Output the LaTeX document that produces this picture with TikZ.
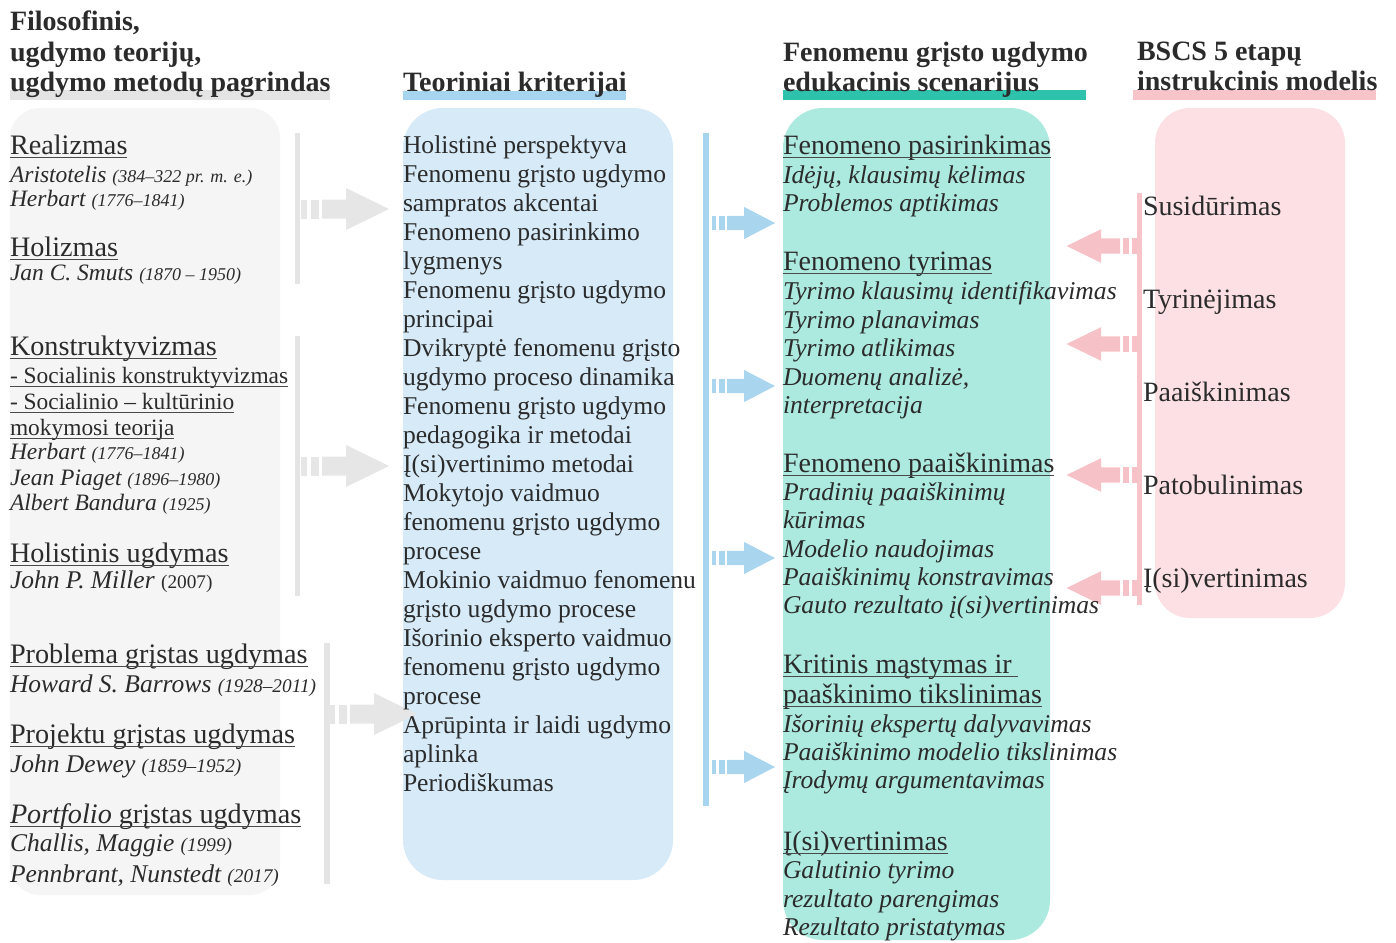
\documentclass[tikz,border=0pt]{standalone}
\usepackage{fontspec}
\setmainfont{Liberation Serif}
\definecolor{panelgray}{HTML}{F5F5F5}
\definecolor{panelblue}{HTML}{D6EAF8}
\definecolor{panelteal}{HTML}{ACE9DF}
\definecolor{panelpink}{HTML}{FDE0E3}
\definecolor{bargray}{HTML}{E4E4E4}
\definecolor{barblue}{HTML}{A7D4EE}
\definecolor{barteal}{HTML}{2EC2AD}
\definecolor{barpink}{HTML}{F7C4CA}
\definecolor{arrowgray}{HTML}{E6E6E6}
\definecolor{arrowblue}{HTML}{A9D5EF}
\definecolor{arrowpink}{HTML}{F6C2C8}
\definecolor{textc}{HTML}{2B2B2B}
\definecolor{ulc}{HTML}{4A4A4A}
\newcommand\myul[1]{\draw[ulline] ([yshift=-3.5pt]#1.base west) -- ([yshift=-3.5pt]#1.base east);}
\newcommand\blockarrow[5]{%
  \begin{scope}[shift={(#1,#2)}, xscale=#3, yscale=#4]
    \fill[#5] (0,-9.5) rectangle (6,9.5);
    \fill[#5] (10,-9.5) rectangle (18,9.5);
    \fill[#5] (21,-9.5) -- (45,-9.5) -- (45,-21) -- (88,0) -- (45,21) -- (45,9.5) -- (21,9.5) -- cycle;
  \end{scope}}
\tikzset{
  txt/.style={anchor=base west, inner sep=0pt, outer sep=0pt, text=textc},
  headtxt/.style={txt, font=\fontsize{28}{30}\selectfont\bfseries},
  ltitle/.style={txt, font=\fontsize{28.2}{30}\selectfont},
  lsub/.style={txt, font=\fontsize{23.4}{26}\selectfont},
  lname/.style={txt, font=\fontsize{23.5}{26}\selectfont\itshape},
  lnameb/.style={txt, font=\fontsize{25.5}{28}\selectfont\itshape},
  btext/.style={txt, font=\fontsize{25.6}{29}\selectfont},
  ttitle/.style={txt, font=\fontsize{28}{29}\selectfont},
  titem/.style={txt, font=\fontsize{25.6}{29}\selectfont\itshape},
  ptext/.style={txt, font=\fontsize{28}{30}\selectfont},
  ulline/.style={draw=ulc, line width=1.3pt},
  panel/.style={rounded corners=40pt}
}
\newcommand\dt[1]{{\fontsize{18}{20}\selectfont #1}}
\newcommand\dtb[1]{{\fontsize{19.3}{21}\selectfont #1}}
\begin{document}
\begin{tikzpicture}[x=1pt,y=-1pt]
\useasboundingbox (0,0) rectangle (1396,942);
\fill[white] (0,0) rectangle (1396,942);
% panels
\fill[panelgray, rounded corners=30pt] (10,108) rectangle (280,895);
\fill[panelblue, panel] (403,108) rectangle (673,880);
\fill[panelteal, panel] (783,108) rectangle (1050,940);
\fill[panelpink, rounded corners=35pt] (1155,108) rectangle (1345,618);
% vertical bars
\fill[bargray] (295,133) rectangle (300,284);
\fill[bargray] (295,336) rectangle (300,596);
\fill[bargray] (324,643) rectangle (330,884);
\fill[barblue] (703,133) rectangle (709,806);
\fill[barpink] (1137,193) rectangle (1142,605);
% block arrows
\blockarrow{301}{209}{1}{1}{arrowgray}
\blockarrow{301}{466}{1}{1}{arrowgray}
\blockarrow{329}{714}{1}{1}{arrowgray}
\blockarrow{712}{223}{0.716}{0.76}{arrowblue}
\blockarrow{712}{386}{0.716}{0.76}{arrowblue}
\blockarrow{712}{558}{0.716}{0.76}{arrowblue}
\blockarrow{712}{767}{0.716}{0.76}{arrowblue}
\blockarrow{1137}{246}{-0.8}{0.8}{arrowpink}
\blockarrow{1137}{344}{-0.8}{0.8}{arrowpink}
\blockarrow{1137}{475}{-0.8}{0.8}{arrowpink}
\blockarrow{1137}{588}{-0.8}{0.8}{arrowpink}
% heading bars
\fill[bargray] (10,90) rectangle (330,100);
\fill[barblue] (403,91) rectangle (626,100);
\fill[barteal] (783,90) rectangle (1086,100);
\fill[barpink] (1133,90) rectangle (1376,100);
% headings
\node[headtxt] (h1a) at (10,31) {Filosofinis,};
\node[headtxt] (h1b) at (10,61) {ugdymo teorijų,};
\node[headtxt] (h1c) at (10,91) {ugdymo metodų pagrindas};
\node[headtxt] (h2) at (403,91) {Teoriniai kriterijai};
\node[headtxt] (h3a) at (783,61) {Fenomenu grįsto ugdymo};
\node[headtxt] (h3b) at (783,91) {edukacinis scenarijus};
\node[headtxt] (h4a) at (1137,60) {BSCS 5 etapų};
\node[headtxt] (h4b) at (1137,90) {instrukcinis modelis};
% left column
\node[ltitle] (l1) at (10,154) {Realizmas}; \myul{l1}
\node[lname] (l2) at (10,182) {Aristotelis \dt{(384–322 pr. m. e.)}};
\node[lname] (l3) at (10,206) {Herbart \dt{(1776–1841)}};
\node[ltitle] (l4) at (10,256) {Holizmas}; \myul{l4}
\node[lname] (l5) at (10,280) {Jan C. Smuts \dt{(1870 – 1950)}};
\node[ltitle] (l6) at (10,355) {Konstruktyvizmas}; \myul{l6}
\node[lsub] (l7) at (10,383) {- Socialinis konstruktyvizmas}; \myul{l7}
\node[lsub] (l8) at (10,409) {- Socialinio – kultūrinio}; \myul{l8}
\node[lsub] (l9) at (10,435) {mokymosi teorija}; \myul{l9}
\node[lname] (l10) at (10,459) {Herbart \dt{(1776–1841)}};
\node[lname] (l11) at (10,485) {Jean Piaget \dt{(1896–1980)}};
\node[lname] (l12) at (10,510) {Albert Bandura \dt{(1925)}};
\node[ltitle] (l13) at (10,562) {Holistinis ugdymas}; \myul{l13}
\node[lnameb] (l14) at (10,588) {John P. Miller \dtb{\upshape (2007)}};
\node[ltitle] (l15) at (10,663) {Problema grįstas ugdymas}; \myul{l15}
\node[lnameb] (l16) at (10,692) {Howard S. Barrows \dtb{(1928–2011)}};
\node[ltitle] (l17) at (10,743) {Projektu grįstas ugdymas}; \myul{l17}
\node[lnameb] (l18) at (10,772) {John Dewey \dtb{(1859–1952)}};
\node[ltitle] (l19) at (10,823) {\textit{Portfolio} grįstas ugdymas}; \myul{l19}
\node[lnameb] (l20) at (10,851) {Challis, Maggie \dtb{(1999)}};
\node[lnameb] (l21) at (10,882) {Pennbrant, Nunstedt \dtb{(2017)}};
% blue column
\foreach \t [count=\i] in {Holistinė perspektyva, Fenomenu grįsto ugdymo, sampratos akcentai,
  Fenomeno pasirinkimo, lygmenys, Fenomenu grįsto ugdymo, principai,
  Dvikryptė fenomenu grįsto, ugdymo proceso dinamika, Fenomenu grįsto ugdymo,
  pedagogika ir metodai, Į(si)vertinimo metodai, Mokytojo vaidmuo,
  fenomenu grįsto ugdymo, procese, Mokinio vaidmuo fenomenu, grįsto ugdymo procese,
  Išorinio eksperto vaidmuo, fenomenu grįsto ugdymo, procese,
  Aprūpinta ir laidi ugdymo, aplinka, Periodiškumas}
  \node[btext] (b\i) at (403,{153+29*(\i-1)}) {\t};
% teal column
\node[ttitle] (t1) at (783,154) {Fenomeno pasirinkimas}; \myul{t1}
\node[titem] (t2) at (783,183) {Idėjų, klausimų kėlimas};
\node[titem] (t3) at (783,211) {Problemos aptikimas};
\node[ttitle] (t4) at (783,270) {Fenomeno tyrimas}; \myul{t4}
\node[titem] (t5) at (783,299) {Tyrimo klausimų identifikavimas};
\node[titem] (t6) at (783,328) {Tyrimo planavimas};
\node[titem] (t7) at (783,356) {Tyrimo atlikimas};
\node[titem] (t8) at (783,385) {Duomenų analizė,};
\node[titem] (t9) at (783,413) {interpretacija};
\node[ttitle] (t10) at (783,472) {Fenomeno paaiškinimas}; \myul{t10}
\node[titem] (t11) at (783,500) {Pradinių paaiškinimų};
\node[titem] (t12) at (783,528) {kūrimas};
\node[titem] (t13) at (783,557) {Modelio naudojimas};
\node[titem] (t14) at (783,585) {Paaiškinimų konstravimas};
\node[titem] (t15) at (783,613) {Gauto rezultato į(si)vertinimas};
\node[ttitle] (t16) at (783,673) {Kritinis mąstymas ir};
\draw[ulline] ([yshift=-3.5pt]t16.base west) -- ([yshift=-3.5pt,xshift=6pt]t16.base east);
\node[ttitle] (t17) at (783,703) {paaškinimo tikslinimas}; \myul{t17}
\node[titem] (t18) at (783,732) {Išorinių ekspertų dalyvavimas};
\node[titem] (t19) at (783,760) {Paaiškinimo modelio tikslinimas};
\node[titem] (t20) at (783,788) {Įrodymų argumentavimas};
\node[ttitle] (t21) at (783,850) {Į(si)vertinimas}; \myul{t21}
\node[titem] (t22) at (783,878) {Galutinio tyrimo};
\node[titem] (t23) at (783,907) {rezultato parengimas};
\node[titem] (t24) at (783,935) {Rezultato pristatymas};
% pink column
\node[ptext] (p1) at (1143,215) {Susidūrimas};
\node[ptext] (p2) at (1143,308) {Tyrinėjimas};
\node[ptext] (p3) at (1143,401) {Paaiškinimas};
\node[ptext] (p4) at (1143,494) {Patobulinimas};
\node[ptext] (p5) at (1143,587) {Į(si)vertinimas};
\end{tikzpicture}
\end{document}
